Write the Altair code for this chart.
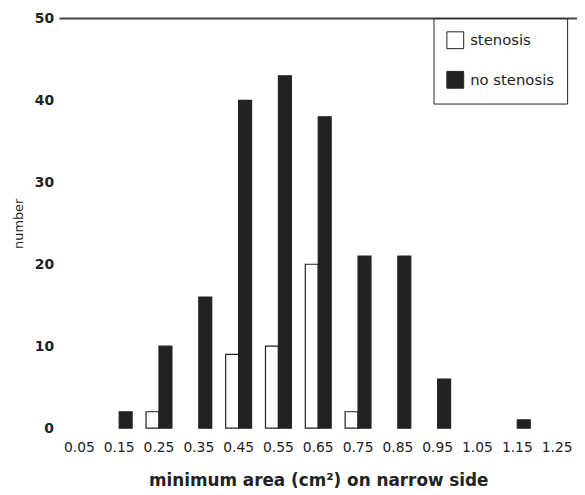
import altair as alt
import pandas as pd

categories = ["0.05", "0.15", "0.25", "0.35", "0.45", "0.55", "0.65",
              "0.75", "0.85", "0.95", "1.05", "1.15", "1.25"]
stenosis = [0, 0, 2, 0, 9, 10, 20, 2, 0, 0, 0, 0, 0]
no_stenosis = [0, 2, 10, 16, 40, 43, 38, 21, 21, 6, 0, 1, 0]
groups = ["stenosis", "no stenosis"]

rows = []
for c, s, n in zip(categories, stenosis, no_stenosis):
    rows.append({"area": c, "group": "stenosis", "count": s})
    rows.append({"area": c, "group": "no stenosis", "count": n})
df = pd.DataFrame(rows)

font = "DejaVu Sans"
ink = "#222222"

y_axis = alt.Axis(title="number", values=[0, 10, 20, 30, 40, 50],
                  ticks=False, domain=False, grid=False, labelPadding=6,
                  labelFontSize=14, labelFontWeight="bold", labelColor=ink,
                  labelFont=font,
                  titleFontSize=13, titleColor=ink, titleFontWeight="normal",
                  titleFont=font, titlePadding=9)
y_scale = alt.Scale(domain=[0, 50], nice=False)

bars = alt.Chart(df).transform_filter("datum.count > 0").mark_bar(
    stroke=ink, strokeWidth=1.2).encode(
    x=alt.X("area:N", sort=categories,
            scale=alt.Scale(domain=categories, paddingInner=0.35, paddingOuter=0.175),
            axis=alt.Axis(title="minimum area (cm²) on narrow side", labelAngle=0,
                          ticks=False, domain=False, labelPadding=13,
                          labelFontSize=14, labelColor=ink, labelFont=font,
                          titleFontSize=17, titleColor=ink, titlePadding=18,
                          titleFontWeight="bold", titleFont=font)),
    xOffset=alt.XOffset("group:N", sort=groups,
                        scale=alt.Scale(domain=groups, paddingInner=0.0)),
    y=alt.Y("count:Q", scale=y_scale, axis=y_axis),
    fill=alt.Fill("group:N", sort=groups,
                  scale=alt.Scale(domain=groups, range=["#ffffff", ink]),
                  legend=alt.Legend(title=None, orient="none", legendX=378, legendY=0,
                                    symbolType="square", symbolSize=289,
                                    symbolStrokeColor=ink, symbolStrokeWidth=1,
                                    labelFontSize=15, labelColor=ink, labelFont=font,
                                    labelOffset=6,
                                    rowPadding=18, padding=13,
                                    strokeColor=ink, fillColor="white",
                                    labelLimit=250)),
)

top = alt.Chart(pd.DataFrame({"v": [50]})).mark_rule(color="#444444", strokeWidth=2).encode(
    y=alt.Y("v:Q", scale=y_scale, axis=y_axis)
)

chart = alt.layer(top, bars).properties(
    width=523, height=414,
    autosize=alt.AutoSizeParams(type="none"),
    padding={"left": 52, "top": 8, "right": 0, "bottom": 65},
).configure(font=font).configure_view(stroke=None, strokeWidth=0)

chart.save("out.html", embed_options={"renderer": "svg", "actions": False})
